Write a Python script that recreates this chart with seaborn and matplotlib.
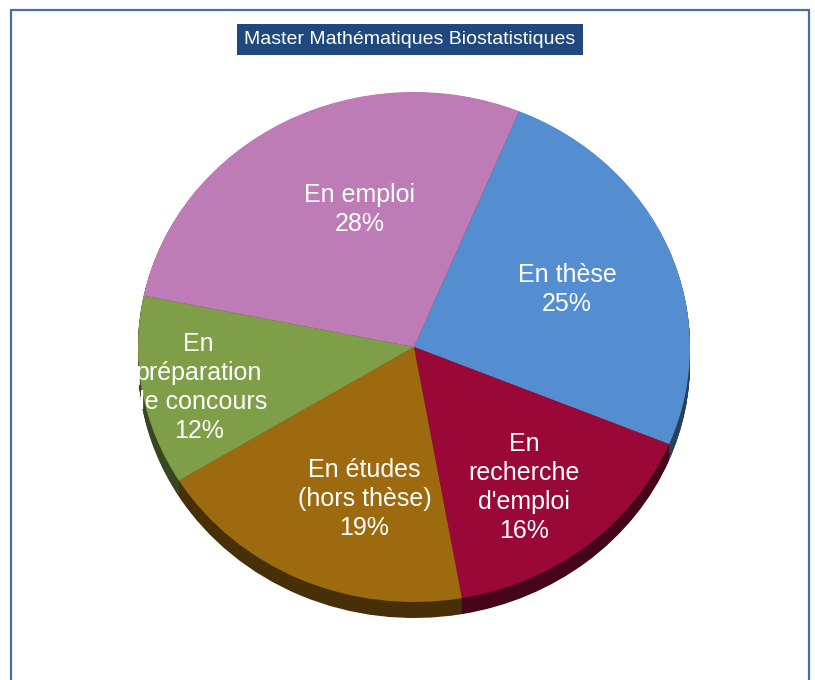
import numpy as np
import matplotlib
matplotlib.use("Agg")
import matplotlib.pyplot as plt
import seaborn as sns
from matplotlib.colors import to_rgb
from matplotlib.patches import Rectangle

# Données du graphique
categories = ["En thèse", "En\nrecherche\nd'emploi", "En études\n(hors thèse)",
              "En\npréparation\nde concours", "En emploi"]
parts = [25, 16, 19, 12, 28]
couleurs = ["#558ED0", "#9A0838", "#9E6A10", "#7F9E48", "#BE7CB6"]
titre = "Master Mathématiques Biostatistiques"

# position des étiquettes (repère du camembert, rayon = 1)
pos_etiquettes = [(0.554, 0.225), (0.40, -0.55), (-0.18, -0.595),
                  (-0.78, -0.16), (-0.196, 0.54)]

sns.set_theme(style="white")
plt.rcParams['font.family'] = ['Liberation Sans', 'DejaVu Sans']

W, H = 815, 680
fig = plt.figure(figsize=(W / 100, H / 100), dpi=100)
fig.patch.set_facecolor("white")

# cadre autour du graphique
fig.patches.append(Rectangle((11 / W, -0.1), (809 - 11) / W, 1 - 10 / H + 0.1,
                             transform=fig.transFigure, fill=False,
                             edgecolor="#4A6E9E", lw=1.6))

# camembert légèrement aplati (effet 3D)
cx, cy, rx, ry, ep = 414, 347, 276, 255, 16
ax = fig.add_axes([(cx - rx) / W, (H - (cy + ry + ep)) / H, 2 * rx / W, (2 * ry + ep) / H])
profondeur = ep / ry

sombres = [tuple(c * 0.45 for c in to_rgb(col)) for col in couleurs]
for k in np.linspace(profondeur, 0.002, 24):
    ax.pie(parts, colors=sombres, startangle=67.6, counterclock=False,
           center=(0, -k), radius=1, wedgeprops=dict(linewidth=0))

ax.pie(parts, colors=couleurs, startangle=67.6, counterclock=False,
       center=(0, 0), radius=1, wedgeprops=dict(linewidth=0))

ax.set_aspect("auto")
ax.set_xlim(-1, 1)
ax.set_ylim(-1 - profondeur, 1)
ax.axis("off")

for cat, p, (x, y) in zip(categories, parts, pos_etiquettes):
    ax.text(x, y, f"{cat}\n{p}%", ha="center", va="center", color="white",
            fontsize=18, linespacing=1.27)

# titre dans un cadre bleu foncé
fig.text(410 / W, 1 - 39 / H, titre, ha="center", va="center", color="white",
         fontsize=14, family=['Liberation Sans Narrow', 'Liberation Sans', 'DejaVu Sans'],
         bbox=dict(boxstyle="square,pad=0.36", facecolor="#1F497D", edgecolor="none"))

fig.savefig("out.png", dpi=100)
